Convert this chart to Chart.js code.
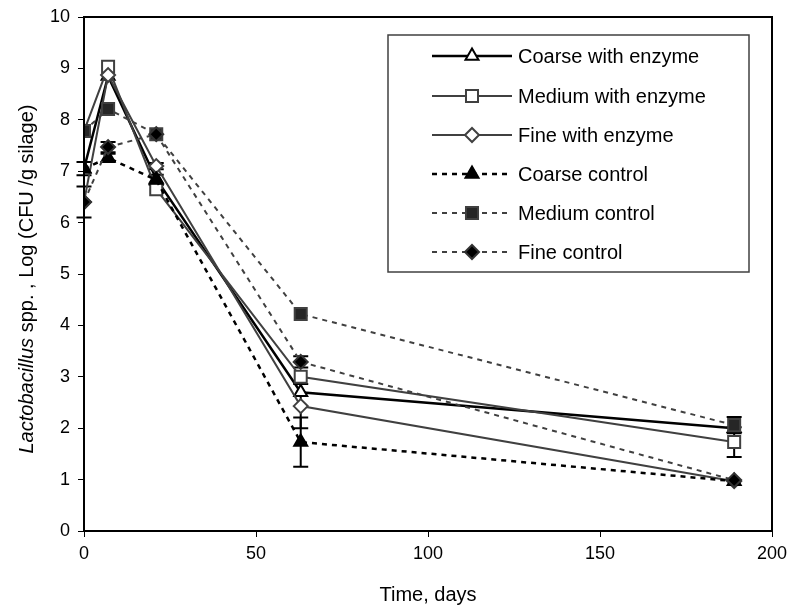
<!DOCTYPE html>
<html><head><meta charset="utf-8">
<script src="https://cdn.jsdelivr.net/npm/chart.js@4.4.1/dist/chart.umd.min.js"></script>
<style>html,body{margin:0;padding:0;background:#fff}canvas{display:block}</style>
</head><body>
<canvas id="c" width="791" height="611"></canvas>
<script>
// ---- data ----
const days = [0, 7, 21, 63, 189];
const seriesNames = ["Coarse with enzyme", "Medium with enzyme", "Fine with enzyme", "Coarse control", "Medium control", "Fine control"];
const coarseEnzyme  = [7.05, 8.85, 6.85, 2.70, 2.00];
const mediumEnzyme  = [7.78, 9.03, 6.65, 3.00, 1.73];
const fineEnzyme    = [6.40, 8.87, 7.10, 2.43, 0.97];
const coarseControl = [7.05, 7.26, 6.83, 1.73, 0.97];
const mediumControl = [7.78, 8.21, 7.72, 4.22, 2.06];
const fineControl   = [6.40, 7.47, 7.72, 3.29, 0.99];
const coarseEnzymeErr  = [0, 0, 0, 0, 0];
const mediumEnzymeErr  = [0, 0, 0, 0, 0.29];
const fineEnzymeErr    = [0, 0, 0.06, 0.43, 0];
const coarseControlErr = [0.13, 0.08, 0.10, 0.48, 0];
const mediumControlErr = [0, 0, 0, 0, 0.16];
const fineControlErr   = [0.30, 0.10, 0, 0.11, 0];
const xTicks = [0, 50, 100, 150, 200];
const yTicks = [0, 1, 2, 3, 4, 5, 6, 7, 8, 9, 10];
const xTitle = "Time, days";
const yTitleItalic = "Lactobacillus";
const yTitleRest = " spp. , Log (CFU /g silage)";

// ---- styles ----
const FONT = "'Liberation Sans', Arial, sans-serif";
const styles = [
  {line:'#000000', width:2.5, dash:[], point:'triangle', r:7.5, fill:'#ffffff', border:'#000000'},
  {line:'#404040', width:2, dash:[], point:'rect', r:8.5, fill:'#ffffff', border:'#404040'},
  {line:'#404040', width:2, dash:[], point:'rectRot', r:7, fill:'#ffffff', border:'#404040'},
  {line:'#000000', width:2.5, dash:[5,5], point:'triangle', r:7.5, fill:'#000000', border:'#000000'},
  {line:'#404040', width:2, dash:[5,5], point:'rect', r:8.5, fill:'#262626', border:'#404040'},
  {line:'#404040', width:2, dash:[5,5], point:'rectRot', r:7, fill:'#000000', border:'#333333'}
];
const values = [coarseEnzyme, mediumEnzyme, fineEnzyme, coarseControl, mediumControl, fineControl];
const errors = [coarseEnzymeErr, mediumEnzymeErr, fineEnzymeErr, coarseControlErr, mediumControlErr, fineControlErr];

const datasets = values.map((vals, i) => ({
  label: seriesNames[i],
  data: days.map((d, j) => ({x: d, y: vals[j]})),
  borderColor: styles[i].line,
  borderWidth: styles[i].width,
  borderDash: styles[i].dash,
  pointStyle: styles[i].point,
  pointRadius: styles[i].r,
  pointBackgroundColor: styles[i].fill,
  pointBorderColor: styles[i].border,
  pointBorderWidth: 2,
  tension: 0,
  fill: false,
  order: 10 - i,
  errs: errors[i]
}));

const framePlugin = {
  id: 'frame',
  beforeDatasetsDraw(chart) {
    const {ctx, scales} = chart;
    ctx.save();
    ctx.strokeStyle = '#000'; ctx.lineWidth = 2; ctx.setLineDash([]);
    chart.data.datasets.forEach(ds => {
      ds.data.forEach((p, j) => {
        const e = ds.errs[j];
        if (!e) return;
        const x = scales.x.getPixelForValue(p.x);
        const y1 = scales.y.getPixelForValue(p.y + e);
        const y2 = scales.y.getPixelForValue(p.y - e);
        ctx.beginPath();
        ctx.moveTo(x, y1); ctx.lineTo(x, y2);
        ctx.moveTo(x - 7.5, y1); ctx.lineTo(x + 7.5, y1);
        ctx.moveTo(x - 7.5, y2); ctx.lineTo(x + 7.5, y2);
        ctx.stroke();
      });
    });
    ctx.restore();
  },
  afterDraw(chart) {
    const {ctx, chartArea: a} = chart;
    ctx.save();
    ctx.strokeStyle = '#000'; ctx.lineWidth = 2;
    ctx.strokeRect(a.left, a.top, a.right - a.left, a.bottom - a.top);
    ctx.fillStyle = '#000';
    ctx.translate(33, 279);
    ctx.rotate(-Math.PI / 2);
    ctx.textBaseline = 'alphabetic';
    const fi = 'italic 20px ' + FONT, fn = '20px ' + FONT;
    ctx.font = fi; const w1 = ctx.measureText(yTitleItalic).width;
    ctx.font = fn; const w2 = ctx.measureText(yTitleRest).width;
    const start = -(w1 + w2) / 2;
    ctx.font = fi; ctx.textAlign = 'left'; ctx.fillText(yTitleItalic, start, 0);
    ctx.font = fn; ctx.fillText(yTitleRest, start + w1, 0);
    ctx.restore();

    ctx.save();
    const L = 388, T = 35, R = 749, B = 272;
    ctx.fillStyle = '#fff'; ctx.fillRect(L, T, R - L, B - T);
    ctx.strokeStyle = '#404040'; ctx.lineWidth = 1.5;
    ctx.strokeRect(L, T, R - L, B - T);
    const rows = [56, 96, 135, 174, 213, 252];
    chart.data.datasets.forEach((ds, i) => {
      const y = rows[i];
      const s = styles[i];
      ctx.strokeStyle = s.line; ctx.lineWidth = s.width; ctx.setLineDash(s.dash);
      ctx.beginPath(); ctx.moveTo(432, y); ctx.lineTo(512, y); ctx.stroke();
      ctx.setLineDash([]);
      ctx.fillStyle = s.fill; ctx.strokeStyle = s.border; ctx.lineWidth = 2;
      Chart.helpers.drawPoint(ctx, {pointStyle: s.point, radius: s.r, rotation: 0, borderWidth: 2}, 472, y);
      ctx.fillStyle = '#000'; ctx.font = '20px ' + FONT;
      ctx.textAlign = 'left'; ctx.textBaseline = 'middle';
      ctx.fillText(ds.label, 518, y + 1);
    });
    ctx.restore();
  }
};

new Chart(document.getElementById('c'), {
  type: 'line',
  data: {datasets},
  plugins: [framePlugin],
  options: {
    responsive: false,
    animation: false,
    layout: {padding: {top: 17, right: 19, left: 0, bottom: 0}},
    plugins: {legend: {display: false}, tooltip: {enabled: false}},
    scales: {
      x: {
        type: 'linear', min: 0, max: 200,
        afterBuildTicks: s => { s.ticks = xTicks.map(v => ({value: v})); },
        ticks: {color: '#000', font: {family: FONT, size: 18}, padding: 6, maxRotation: 0},
        grid: {drawOnChartArea: false, tickLength: 6, color: '#000', lineWidth: 1},
        border: {color: '#000', width: 2},
        title: {display: true, text: xTitle, color: '#000', font: {family: FONT, size: 20}, padding: {top: 20}},
        afterFit: s => { s.height = 80; s.paddingLeft = 0; s.paddingRight = 0; }
      },
      y: {
        type: 'linear', min: 0, max: 10,
        afterBuildTicks: s => { s.ticks = yTicks.map(v => ({value: v})); },
        ticks: {color: '#000', font: {family: FONT, size: 18}, padding: 8},
        grid: {drawOnChartArea: false, tickLength: 6, color: '#000', lineWidth: 1},
        border: {color: '#000', width: 2},
        afterFit: s => { s.width = 84; s.paddingTop = 0; s.paddingBottom = 0; }
      }
    }
  }
});
</script>
</body></html>
